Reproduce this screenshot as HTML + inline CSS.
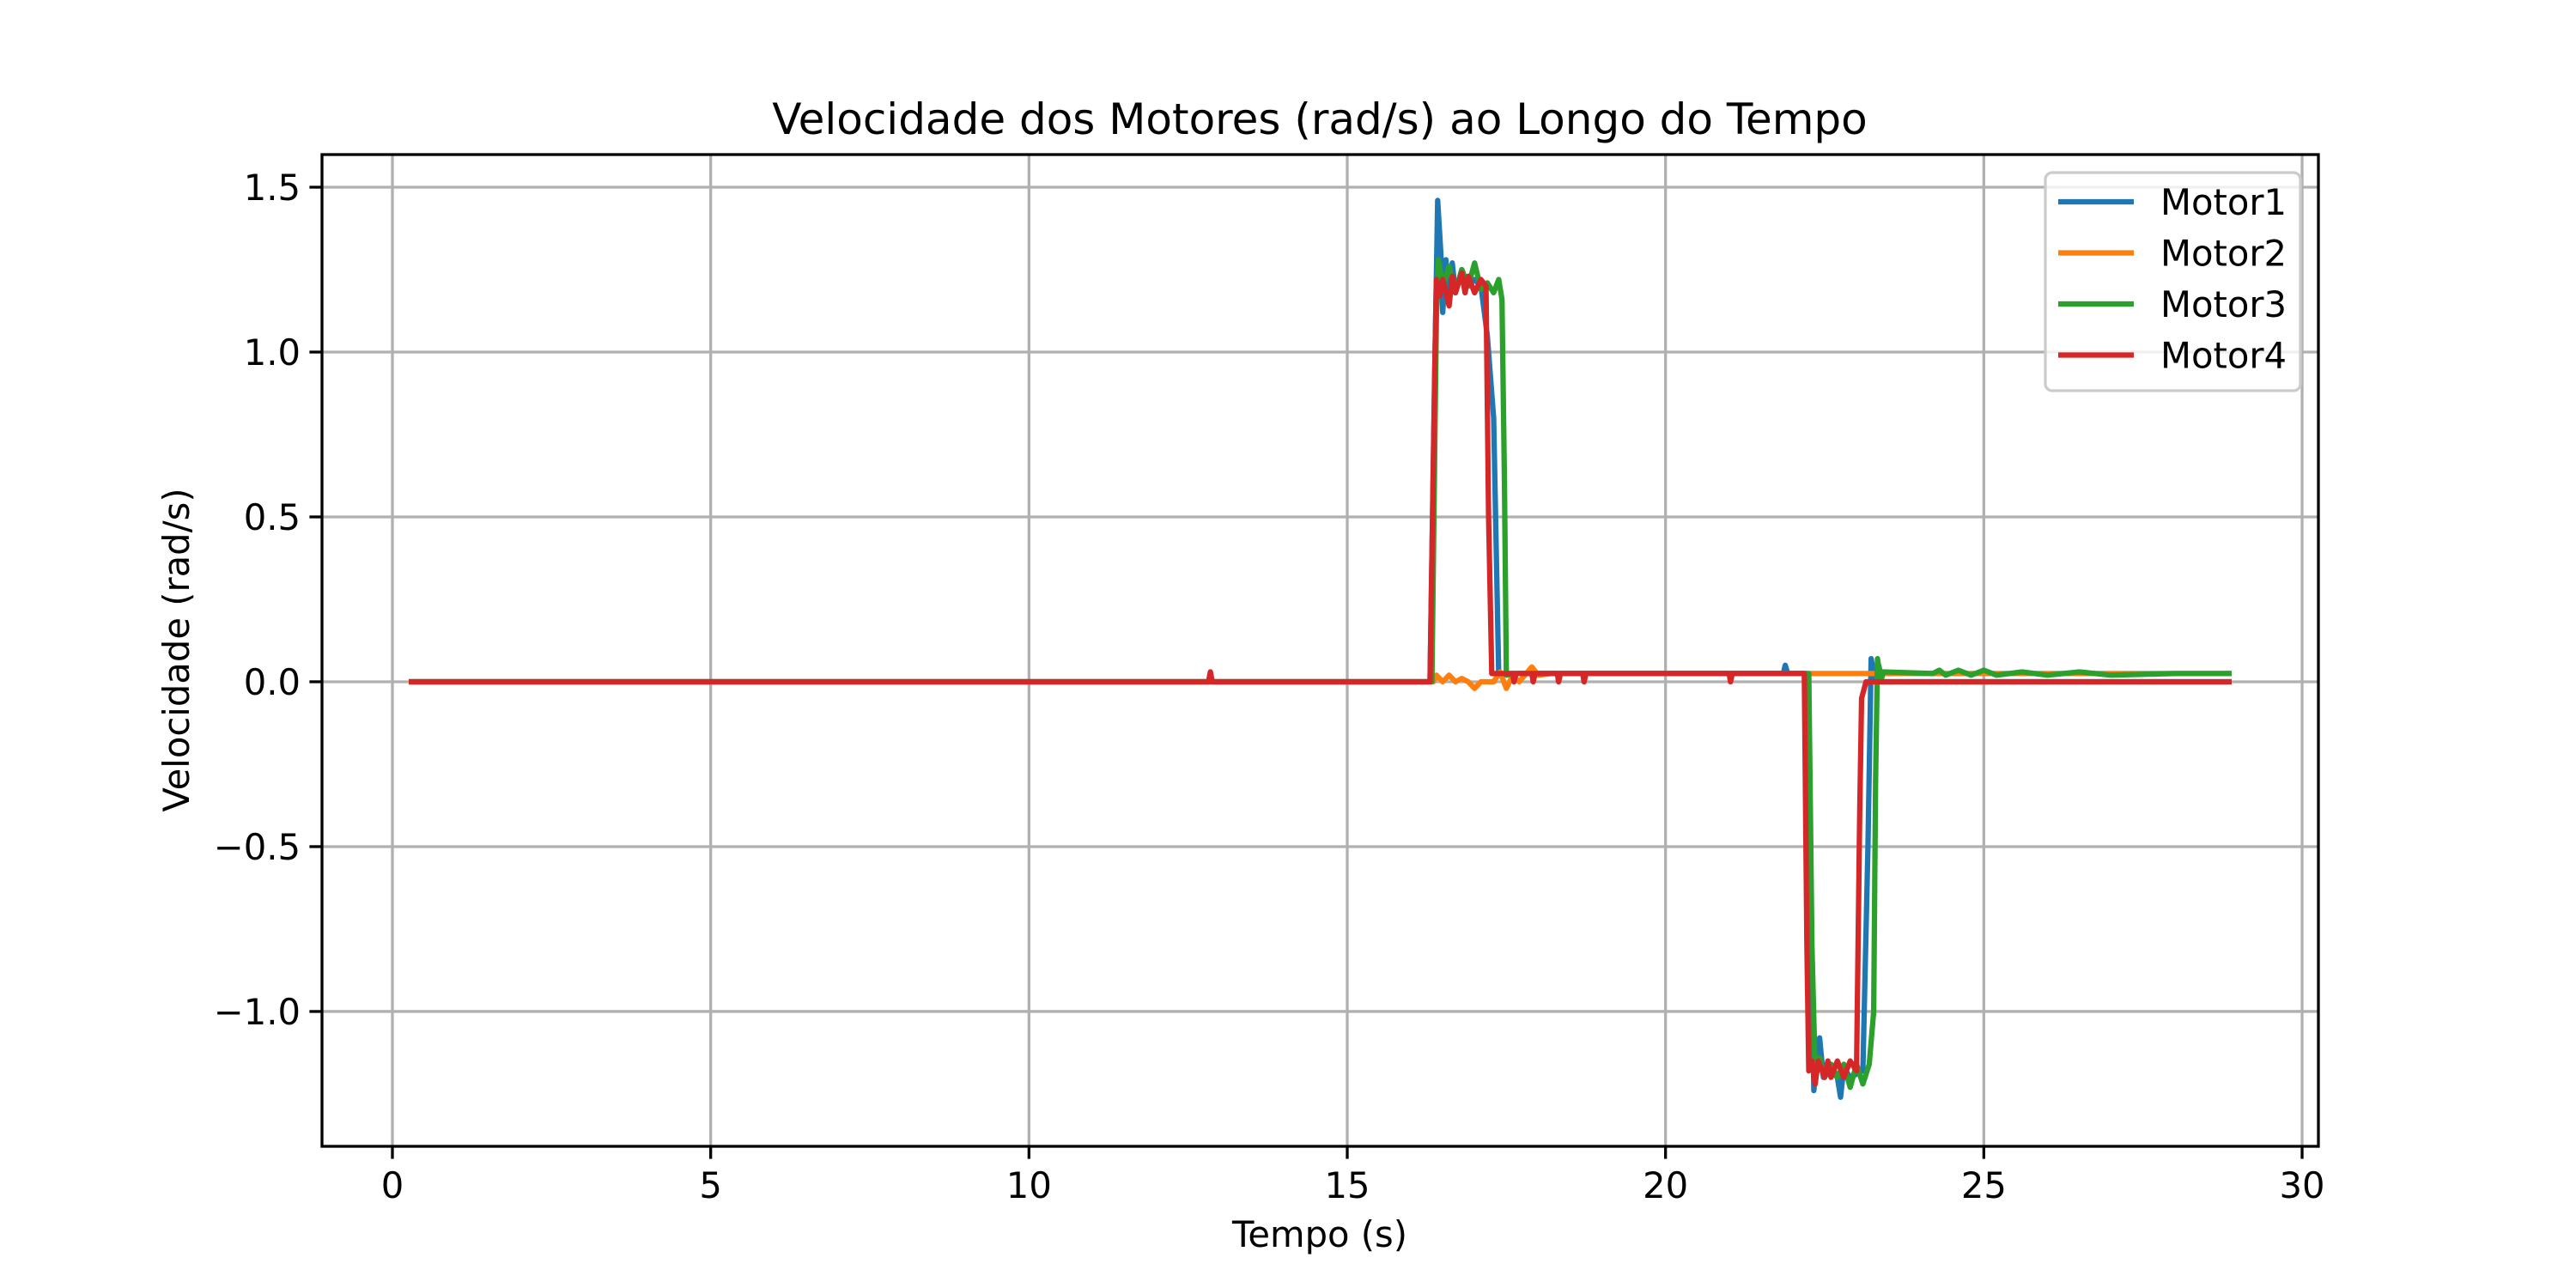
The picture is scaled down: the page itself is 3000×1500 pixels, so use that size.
<!DOCTYPE html>
<html><head><meta charset="utf-8"><style>
html,body{margin:0;padding:0;background:#fff}
svg{display:block;font-family:"DejaVu Sans","Liberation Sans",sans-serif}
</style></head><body>
<svg id="chart" width="3000" height="1500" viewBox="0 0 3000 1500" xmlns="http://www.w3.org/2000/svg">
<rect width="3000" height="1500" fill="#fff"/>
<g id="grid"></g>
<g id="series"></g>
<rect x="375" y="180" width="2325" height="1155" fill="none" stroke="#000" stroke-width="3.3"/>
<g id="ticks"></g>
<text x="1537" y="156" font-size="50" text-anchor="middle">Velocidade dos Motores (rad/s) ao Longo do Tempo</text>
<text x="1537" y="1452" font-size="41.7" text-anchor="middle">Tempo (s)</text>
<text x="220" y="757" font-size="41.7" text-anchor="middle" transform="rotate(-90 220 757)">Velocidade (rad/s)</text>
<g id="legend">
<rect x="2382" y="201" width="297" height="254" rx="8" fill="#fff" fill-opacity="0.8" stroke="#ccc" stroke-width="3.3"/>
</g>
</svg>
<script>
const xTicks=[0,5,10,15,20,25,30];
const yTicks=[-1.0,-0.5,0.0,0.5,1.0,1.5];
const yTickLabels=["\u22121.0","\u22120.5","0.0","0.5","1.0","1.5"];
const seriesNames=["Motor1","Motor2","Motor3","Motor4"];
const seriesColors=["#1f77b4","#ff7f0e","#2ca02c","#d62728"];
const motor1=[[0.3,0],[16.3,0],[16.38,1.0],[16.42,1.46],[16.47,1.3],[16.5,1.12],[16.55,1.28],[16.6,1.15],[16.65,1.27],[16.7,1.18],[16.8,1.25],[16.9,1.2],[17.0,1.22],[17.1,1.2],[17.2,1.05],[17.3,0.8],[17.38,0.02],[17.5,0.025],[21.85,0.025],[21.88,0.05],[21.92,0.025],[22.2,0.025],[22.3,-0.9],[22.33,-1.24],[22.38,-1.12],[22.42,-1.08],[22.48,-1.2],[22.6,-1.18],[22.7,-1.2],[22.75,-1.26],[22.8,-1.17],[22.9,-1.2],[23.1,-1.18],[23.18,-0.5],[23.23,0.07],[23.3,0.0],[23.35,0.05],[23.4,0],[28.85,0]];
const motor2=[[0.3,0],[16.35,0],[16.4,0.02],[16.5,0.0],[16.6,0.02],[16.7,0.0],[16.8,0.01],[16.9,0.0],[17.0,-0.02],[17.1,0.0],[17.3,0.0],[17.4,0.03],[17.5,-0.02],[17.6,0.02],[17.7,0.0],[17.9,0.045],[18.0,0.02],[18.2,0.025],[28.85,0.025]];
const motor3=[[0.3,0],[16.33,0],[16.4,1.1],[16.43,1.28],[16.5,1.2],[16.6,1.26],[16.7,1.18],[16.8,1.25],[16.9,1.2],[17.0,1.27],[17.1,1.19],[17.2,1.21],[17.3,1.18],[17.38,1.22],[17.43,1.16],[17.47,0.6],[17.5,0.02],[17.6,0.025],[22.25,0.025],[22.3,-0.8],[22.35,-1.18],[22.42,-1.14],[22.5,-1.2],[22.6,-1.16],[22.7,-1.2],[22.8,-1.16],[22.9,-1.23],[23.0,-1.16],[23.1,-1.22],[23.2,-1.16],[23.27,-1.0],[23.3,-0.3],[23.33,0.07],[23.38,0.0],[23.42,0.03],[24.2,0.025],[24.3,0.035],[24.4,0.02],[24.6,0.035],[24.8,0.02],[25.0,0.035],[25.2,0.02],[25.6,0.03],[26.0,0.02],[26.5,0.03],[27.0,0.02],[28.0,0.025],[28.85,0.025]];
const motor4=[[0.3,0],[12.82,0],[12.85,0.03],[12.88,0],[16.3,0],[16.37,0.9],[16.4,1.22],[16.45,1.17],[16.5,1.22],[16.6,1.14],[16.65,1.23],[16.7,1.18],[16.8,1.24],[16.85,1.18],[16.9,1.23],[17.0,1.18],[17.1,1.22],[17.18,1.2],[17.22,0.5],[17.27,0.025],[17.6,0.025],[17.62,0],[17.65,0.025],[17.9,0.025],[17.92,0],[17.95,0.025],[18.3,0.025],[18.32,0],[18.35,0.025],[18.7,0.025],[18.72,0],[18.75,0.025],[21.0,0.025],[21.02,0],[21.05,0.025],[22.18,0.025],[22.22,-0.8],[22.25,-1.18],[22.3,-1.15],[22.35,-1.22],[22.4,-1.15],[22.5,-1.2],[22.55,-1.15],[22.6,-1.2],[22.7,-1.15],[22.8,-1.2],[22.9,-1.15],[23.0,-1.18],[23.05,-0.4],[23.08,-0.05],[23.15,0.0],[28.85,0]];
const allSeries=[motor1,motor2,motor3,motor4];
const NS="http://www.w3.org/2000/svg";
const X0=375,X1=2700,Y0=180,Y1=1335;
const xMin=-1.106,xMax=30.256,yMin=-1.409,yMax=1.599;
function sx(v){return X0+(v-xMin)/(xMax-xMin)*(X1-X0);}
function sy(v){return Y1-(v-yMin)/(yMax-yMin)*(Y1-Y0);}
function mk(tag,attrs,parent){const e=document.createElementNS(NS,tag);for(const k in attrs)e.setAttribute(k,attrs[k]);parent.appendChild(e);return e;}
const grid=document.getElementById('grid'),ticks=document.getElementById('ticks'),ser=document.getElementById('series'),leg=document.getElementById('legend');
xTicks.forEach(t=>{
  const x=sx(t);
  const g=mk('line',{x1:x,x2:x,y1:Y0,y2:Y1,stroke:'#b0b0b0','stroke-width':3.3},grid);
  
  
  const tk=mk('line',{x1:x,x2:x,y1:Y1,y2:Y1+14.6,stroke:'#000','stroke-width':3.3},ticks);
  
  
  const tl=mk('text',{x:x,y:1395,'font-size':41.7,'text-anchor':'middle'},ticks);
  tl.textContent=String(t);
  
  
});
yTicks.forEach((t,i)=>{
  const y=sy(t);
  const g=mk('line',{x1:X0,x2:X1,y1:y,y2:y,stroke:'#b0b0b0','stroke-width':3.3},grid);
  
  
  const tk=mk('line',{x1:X0-14.6,x2:X0,y1:y,y2:y,stroke:'#000','stroke-width':3.3},ticks);
  
  
  const tl=mk('text',{x:X0-25,y:y+15,'font-size':41.7,'text-anchor':'end'},ticks);
  tl.textContent=yTickLabels[i];
  
  
});
allSeries.forEach((d,i)=>{
  const p=mk('polyline',{points:d.map(q=>sx(q[0]).toFixed(1)+','+sy(q[1]).toFixed(1)).join(' '),fill:'none',stroke:seriesColors[i],'stroke-width':6.25,'stroke-linejoin':'round','stroke-linecap':'square'},ser);
  
  
  const ly=235+i*59.5;
  const ll=mk('line',{x1:2397,x2:2485,y1:ly,y2:ly,stroke:seriesColors[i],'stroke-width':6.25},leg);
  
  
  const lt=mk('text',{x:2516,y:ly+15,'font-size':41.7},leg);
  lt.textContent=seriesNames[i];
  
  
});
</script>
</body></html>
